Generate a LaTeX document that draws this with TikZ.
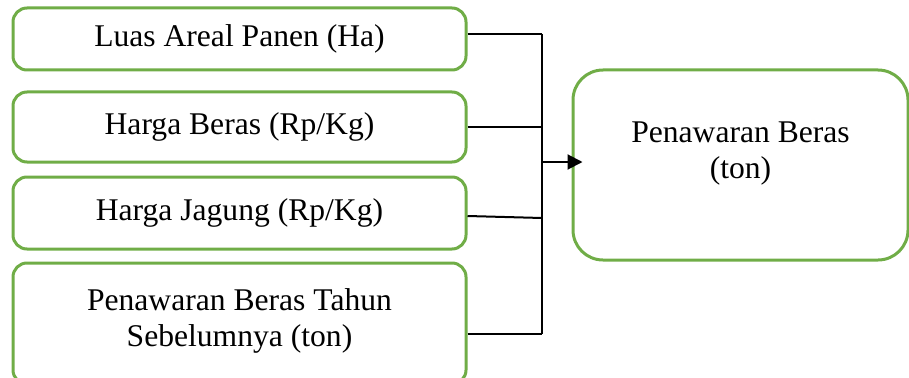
\documentclass[tikz,border=0pt]{standalone}
\usepackage{fontspec}
\setmainfont{Liberation Serif}
\usepackage{xcolor}
\usetikzlibrary{arrows, arrows.meta}
\usetikzlibrary{calc}
\definecolor{boxgreen}{HTML}{70AD47}

\begin{document}
\begin{tikzpicture}[x=1pt, y=-1pt,
    varbox/.style={rectangle, draw=boxgreen, line width=3pt, rounded corners=14pt, minimum width=453pt, align=center, inner sep=0pt, font=\fontsize{31.6}{36}\selectfont},
    conn/.style={line width=2pt, black}]
      \useasboundingbox (0,0) rectangle (909,377);

      \node[varbox, minimum height=62pt] (luas) at (239.5,39) {Luas Areal Panen (Ha)};
      \node[varbox, minimum height=70pt] (hberas) at (239.5,127) {Harga Beras (Rp/Kg)};
      \node[varbox, minimum height=72pt] (hjagung) at (239.5,213) {Harga Jagung (Rp/Kg)};
      \node[varbox, minimum height=121pt, text depth=12pt] (lag) at (239.5,323.5) {Penawaran Beras Tahun\\Sebelumnya (ton)};
      \node[varbox, minimum width=335pt, minimum height=190pt, rounded corners=30pt, text depth=29pt] (supply) at (740.5,165) {Penawaran Beras\\(ton)};

      \coordinate (jtop) at (542,34);
      \coordinate (jbot) at (542,334);
      \coordinate (jmid) at (542,162);

      \draw[conn] (jtop) -- (jbot);
      \draw[conn] (luas.east |- jtop) -- (jtop);
      \draw[conn] (hberas.east) -- (hberas.east -| jtop);
      \draw[conn] ([yshift=-3pt]hjagung.east) -- ([yshift=-5pt]hjagung.east -| jtop);
      \draw[conn] (lag.east |- jbot) -- (jbot);
      \draw[conn, -{Triangle[length=15pt, width=15pt]}] (jmid) -- ([xshift=11pt]supply.west |- jmid);
    \end{tikzpicture}
\end{document}
